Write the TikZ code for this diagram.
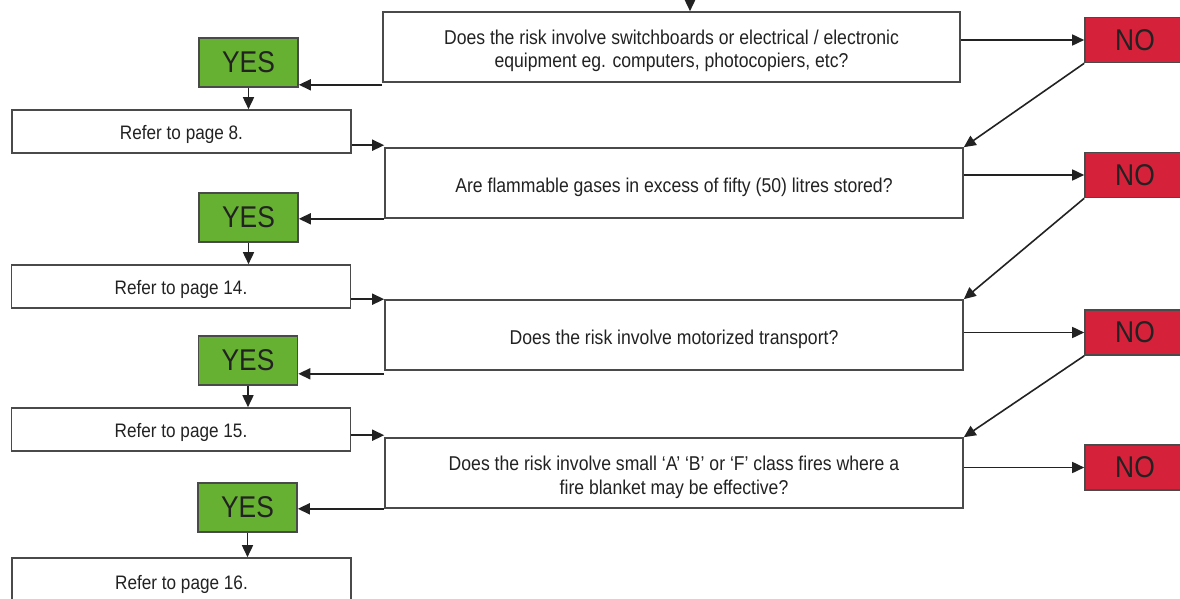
\documentclass[tikz,border=0pt]{standalone}
\usepackage{fontspec}
\setmainfont{Liberation Sans}[FakeStretch=0.88]
\usetikzlibrary{arrows.meta}
\definecolor{yesgreen}{HTML}{66B032}
\definecolor{nored}{HTML}{D6213A}
\definecolor{txt}{HTML}{222222}
\definecolor{edge}{HTML}{4A4A4A}
\newcommand\qdown{\rule{0pt}{22.6pt}}
\newcommand\rdown{\rule{0pt}{19.2pt}}
\tikzset{
  qbox/.style={draw=edge, line width=1.6pt, fill=white, minimum width=578pt, minimum height=70pt, inner sep=0pt, align=center, text=txt, font=\fontsize{20}{23}\selectfont},
  rbox/.style={draw=edge, line width=1.6pt, fill=white, minimum width=339pt, minimum height=43pt, inner sep=0pt, align=center, text=txt, font=\fontsize{19.5}{22}\selectfont},
  yesbox/.style={draw=edge, line width=1.6pt, fill=yesgreen, minimum width=99pt, minimum height=49pt, inner sep=0pt, text=txt, font=\fontsize{30}{32}\selectfont},
  nobox/.style={draw=edge, line width=1.6pt, fill=nored, minimum width=100pt, minimum height=45pt, inner sep=0pt, text=txt, font=\fontsize{30}{32}\selectfont},
  arr/.style={draw=txt, line width=1.6pt, -{Triangle[length=12pt,width=11pt]}}
}
\begin{document}
\begin{tikzpicture}[x=1pt,y=-1pt]
\useasboundingbox (0,0) rectangle (1180,599);
% questions
\node[qbox, minimum width=577pt] (Q1) at (671.5,47) {\qdown Does the risk involve switchboards or electrical / electronic\\equipment eg. computers, photocopiers, etc?};
\node[qbox] (Q2) at (674,183) {\qdown Are flammable gases in excess of fifty (50) litres stored?};
\node[qbox] (Q3) at (674,335) {\qdown Does the risk involve motorized transport?};
\node[qbox] (Q4) at (674,473) {\qdown Does the risk involve small `A' `B' or `F' class fires where a\\[1pt]fire blanket may be effective?};
% yes
\node[yesbox] (Y1) at (248.5,62.5) {YES};
\node[yesbox] (Y2) at (248.5,217.5) {YES};
\node[yesbox] (Y3) at (248,360.5) {YES};
\node[yesbox] (Y4) at (247.5,507.5) {YES};
% refer
\node[rbox] (R1) at (181.5,131.5) {\rdown Refer to page 8.};
\node[rbox] (R2) at (181,286.5) {\rdown Refer to page 14.};
\node[rbox] (R3) at (181,429.5) {\rdown Refer to page 15.};
\node[rbox, minimum height=48pt] (R4) at (181.5,582) {\rdown Refer to page 16.};
% no
\node[nobox] (N1) at (1135,40) {NO};
\node[nobox] (N2) at (1135,175) {NO};
\node[nobox] (N3) at (1135,332.5) {NO};
\node[nobox] (N4) at (1135,467.5) {NO};
% connectors
\coordinate (top) at (690,-4);
\draw[arr] (top) -- (top |- Q1.north);
\draw[arr] (Q1.east |- N1.west) -- (N1.west);
\draw[arr] (Q2.east |- N2.west) -- (N2.west);
\draw[arr] (Q3.east |- N3.west) -- (N3.west);
\draw[arr] (Q4.east |- N4.west) -- (N4.west);
\draw[arr] (N1.south west) -- (Q2.north east);
\draw[arr] (N2.south west) -- (Q3.north east);
\draw[arr] (N3.south west) -- (Q4.north east);
\draw[arr] ([yshift=-2pt]Q1.south west) -- ([yshift=-2pt]Q1.south west -| Y1.east);
\draw[arr] (Q2.south west) -- (Q2.south west -| Y2.east);
\draw[arr] ([yshift=-3pt]Q3.south west) -- ([yshift=-3pt]Q3.south west -| Y3.east);
\draw[arr] (Q4.south west) -- (Q4.south west -| Y4.east);
\draw[arr] (Y1.south) -- (Y1.south |- R1.north);
\draw[arr] (Y2.south) -- (Y2.south |- R2.north);
\draw[arr] (Y3.south) -- (Y3.south |- R3.north);
\draw[arr] (Y4.south) -- (Y4.south |- R4.north);
\draw[arr] ([yshift=2pt]R1.east |- Q2.north west) -- ([yshift=2pt]Q2.north west);
\draw[arr] (R2.east |- Q3.north west) -- (Q3.north west);
\draw[arr] ([yshift=2pt]R3.east |- Q4.north west) -- ([yshift=2pt]Q4.north west);
\end{tikzpicture}
\end{document}
